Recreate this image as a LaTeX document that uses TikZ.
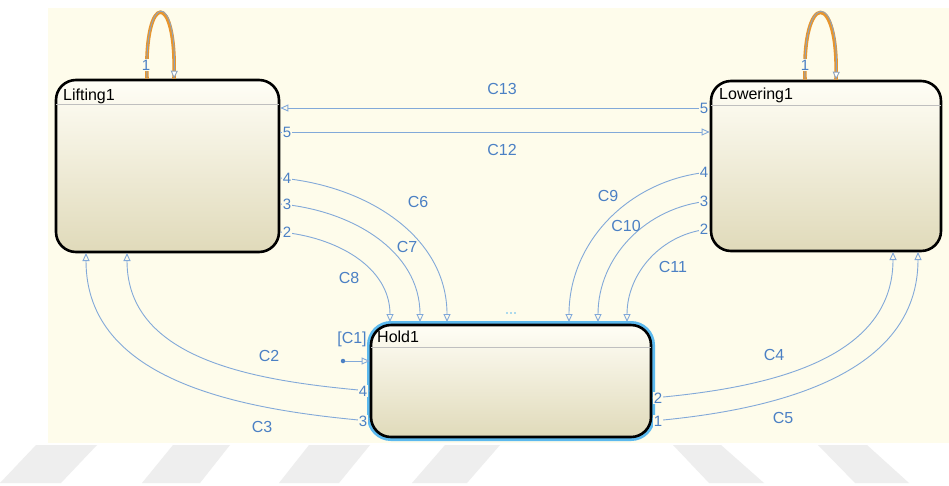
\documentclass[tikz,border=0pt]{standalone}
\usepackage{fontspec}
\setmainfont{Liberation Sans}
\usetikzlibrary{arrows.meta}
\definecolor{bg}{HTML}{FEFCEB}
\definecolor{tline}{HTML}{82A9D9}
\definecolor{tlab}{HTML}{4B80C4}
\definecolor{hl}{HTML}{5CB9EE}
\definecolor{orng}{HTML}{E8952C}
\definecolor{loopln}{HTML}{8EA3BC}
\definecolor{stripe}{HTML}{EEEEEE}
\definecolor{stop}{HTML}{FFFEF6}
\definecolor{sbot}{HTML}{E0DABA}
\begin{document}
\begin{tikzpicture}[x=1pt,y=-1pt,
  state/.style={draw=black, line width=2.6pt, rounded corners=20pt, top color=stop, bottom color=sbot, inner sep=0pt},
  trans/.style={draw=tline, line width=0.9pt, -{Triangle[open,length=8pt,width=7pt]}},
  looptr/.style={draw=loopln, line width=0.9pt, -{Triangle[fill=white,length=8pt,width=7pt]}},
  loopbg/.style={draw=orng, line width=3.6pt},
  lab/.style={text=tlab, font=\fontsize{16}{18}\selectfont, inner sep=1pt},
  port/.style={text=tlab, font=\fontsize{15}{17}\selectfont, fill=bg, inner sep=0.6pt},
  title/.style={font=\fontsize{16}{18}\selectfont, anchor=base west, inner sep=0pt},
  sep/.style={draw=black!25, line width=0.6pt, shorten <=1.3pt, shorten >=1.3pt}]
\useasboundingbox (0,0) rectangle (949,485);
\fill[white] (0,0) rectangle (949,485);
\fill[bg] (48,8) rectangle (949,443);
% watermark stripes
\fill[stripe] (36,445) -- (97,445) -- (61,483) -- (0,483) -- cycle;
\fill[stripe] (173,445) -- (230,445) -- (200,483) -- (142,483) -- cycle;
\fill[stripe] (309,445) -- (370,445) -- (339,483) -- (279,483) -- cycle;
\fill[stripe] (445,445) -- (500,445) -- (467,483) -- (412,483) -- cycle;
\fill[stripe] (673,445) -- (721,445) -- (764,483) -- (709,483) -- cycle;
\fill[stripe] (818,445) -- (867,445) -- (909,483) -- (855,483) -- cycle;

% states
\node[state, minimum width=223pt, minimum height=172pt] (L) at (167.5,166) {};
\node[state, minimum width=230pt, minimum height=170pt] (R) at (826,166) {};
\node[state, preaction={draw=hl, line width=8pt}, minimum width=280pt, minimum height=112pt] (H) at (511,381) {};

\draw[sep] (L.west |- 0,104) -- (L.east |- 0,104);
\draw[sep] (R.west |- 0,105) -- (R.east |- 0,105);
\draw[sep] (H.west |- 0,347) -- (H.east |- 0,347);

\node[title] (Lt) at (63,100) {Lifting1};
\node[title] (Rt) at (719,99) {Lowering1};
\node[title] (Ht) at (377,342) {Hold1};

\coordinate (Htop) at (511,322);
\coordinate (Lb) at (167,253);
\coordinate (Rb) at (826,252);

% self loops
\draw[loopbg] (L.north -| 147,0) .. controls (144,-10) and (177,-10) .. (L.north -| 174,0);
\draw[looptr] (L.north -| 147,0) .. controls (144,-10) and (177,-10) .. (L.north -| 174,0);
\node[port] at (146,65) {1};
\draw[loopbg] (R.north -| 805,0) .. controls (802,-10) and (839,-10) .. (R.north -| 836,0);
\draw[looptr] (R.north -| 805,0) .. controls (802,-10) and (839,-10) .. (R.north -| 836,0);
\node[port] at (805,65) {1};

% C13, C12
\draw[trans] (R.west |- 0,108) -- (L.east |- 0,108);
\draw[trans] (L.east |- 0,132) -- (R.west |- 0,132);
\node[port] at (704,108) {5};
\node[port] at (287,132) {5};
\node[lab] at (502,89) {C13};
\node[lab] at (502,150) {C12};

% Lifting -> Hold
\draw[trans] (L.east |- 0,178) to[out=-5,in=90] (Htop -| 447,0);
\draw[trans] (L.east |- 0,204) to[out=-5,in=90] (Htop -| 420,0);
\draw[trans] (L.east |- 0,232) to[out=-5,in=90] (Htop -| 390,0);
\node[port] at (287,178) {4};
\node[port] at (287,204) {3};
\node[port] at (287,232) {2};
\node[lab] at (418,202) {C6};
\node[lab] at (407,247) {C7};
\node[lab] at (349,278) {C8};

% Lowering -> Hold
\draw[trans] (R.west |- 0,172) to[out=185,in=90] (Htop -| 569,0);
\draw[trans] (R.west |- 0,201) to[out=185,in=90] (Htop -| 598,0);
\draw[trans] (R.west |- 0,229) to[out=185,in=90] (Htop -| 627,0);
\node[port] at (704,172) {4};
\node[port] at (704,201) {3};
\node[port] at (704,229) {2};
\node[lab] at (608,196) {C9};
\node[lab] at (626,226) {C10};
\node[lab] at (673,267) {C11};

% Hold -> Lifting
\draw[trans] (H.west |- 0,391) to[out=175,in=270] (Lb -| 127,0);
\draw[trans] (H.west |- 0,421) to[out=175,in=270] (Lb -| 86,0);
\node[port] at (363,391) {4};
\node[port] at (363,421) {3};
\node[lab] at (269,356) {C2};
\node[lab] at (262,427) {C3};

% Hold -> Lowering
\draw[trans] (H.east |- 0,398) to[out=5,in=270] (Rb -| 893,0);
\draw[trans] (H.east |- 0,421) to[out=5,in=270] (Rb -| 918,0);
\node[port] at (658,398) {2};
\node[port] at (658,421) {1};
\node[lab] at (774,355) {C4};
\node[lab] at (783,418) {C5};

% default transition
\node[circle, fill=tlab, inner sep=0pt, minimum size=4.5pt] (dot) at (343,361) {};
\draw[trans] (dot) -- (H.west |- 0,361);
\node[lab] at (352,339) {[C1]};

% ellipsis
\fill[hl] (507,313) circle (0.9pt) (511,313) circle (0.9pt) (515,313) circle (0.9pt);
\end{tikzpicture}
\end{document}
